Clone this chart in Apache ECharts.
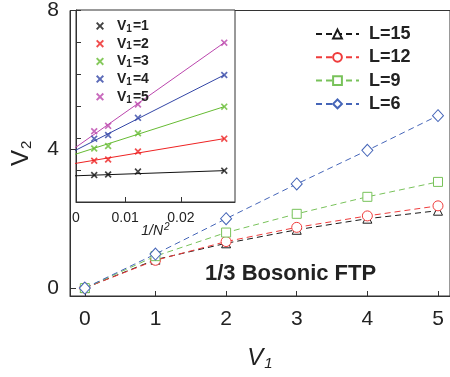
<!DOCTYPE html>
<html>
<head>
<meta charset="utf-8">
<script src="https://cdn.jsdelivr.net/npm/echarts@6/dist/echarts.min.js"></script>
<style>
  html, body { margin: 0; padding: 0; background: #fff; }
  #chart { width: 450px; height: 377px; }
</style>
</head>
<body>
<div id="chart"></div>
<script>
// main panel: V2 vs V1 for several system sizes
const v1Values = [0, 1, 2, 3, 4, 5];
const sizeNames = ['L=15', 'L=12', 'L=9', 'L=6'];
const v2L15 = [0, 0.82, 1.29, 1.68, 2.0, 2.23];
const v2L12 = [0, 0.80, 1.34, 1.75, 2.08, 2.37];
const v2L9 = [0, 0.92, 1.60, 2.14, 2.63, 3.06];
const v2L6 = [0, 0.98, 2.0, 3.0, 3.97, 4.97];
const mainXTicks = [0, 1, 2, 3, 4, 5];
const mainYTicks = [0, 4, 8];

// inset: extrapolation in 1/N^2
const invN2 = [0.00444, 0.00694, 0.0123, 0.0278];
const insetV1 = [1, 2, 3, 4, 5];
const insetV1eq1 = [0.84, 0.86, 0.95, 0.98];
const insetV1eq2 = [1.29, 1.33, 1.58, 1.98];
const insetV1eq3 = [1.67, 1.75, 2.15, 2.98];
const insetV1eq4 = [1.98, 2.09, 2.63, 3.97];
const insetV1eq5 = [2.21, 2.38, 3.05, 4.98];
const fitAtZero = [0.813, 1.175, 1.433, 1.52, 1.57];
const fitAtEnd = [0.98, 1.98, 2.98, 3.97, 4.98];
const insetXTicks = [0.00117, 0.01, 0.02];
const insetXLabels = ['0', '0.01', '0.02'];

const mainColors = ['#1a1a1a', '#ef3b3b', '#78c25a', '#4565b8'];
const mainSymbols = ['triangle', 'circle', 'rect', 'diamond'];
const mainSizes = [9, 10, 9, [11, 12]];
const insetColors = ['#111111', '#ee2222', '#66bb33', '#3346a6', '#bb46ad'];
const cross = 'path://M0,1.7L1.7,0L5,3.3L8.3,0L10,1.7L6.7,5L10,8.3L8.3,10L5,6.7L1.7,10L0,8.3L3.3,5Z';

const mainSets = [v2L15, v2L12, v2L9, v2L6];
const insetSets = [insetV1eq1, insetV1eq2, insetV1eq3, insetV1eq4, insetV1eq5];
const insetNames = insetV1.map(v => 'V1=' + v);

const chart = echarts.init(document.getElementById('chart'));

const series = [];
mainSets.forEach((vals, i) => {
  series.push({
    name: sizeNames[i],
    type: 'line',
    xAxisIndex: 0,
    yAxisIndex: 0,
    data: vals.map((v, k) => [v1Values[k], v]),
    symbol: mainSymbols[i],
    symbolSize: mainSizes[i],
    showAllSymbol: true,
    lineStyle: { color: mainColors[i], width: 1, type: [6, 4] },
    itemStyle: { color: '#fff', borderColor: mainColors[i], borderWidth: 1 },
    z: 2
  });
});
insetSets.forEach((vals, i) => {
  series.push({
    name: insetNames[i] + ' fit',
    type: 'line',
    xAxisIndex: 1,
    yAxisIndex: 1,
    data: [[0, fitAtZero[i]], [invN2[invN2.length - 1], fitAtEnd[i]]],
    showSymbol: false,
    lineStyle: { color: insetColors[i], width: 1 },
    clip: true,
    silent: true,
    z: 11
  });
  series.push({
    name: insetNames[i],
    type: 'scatter',
    xAxisIndex: 1,
    yAxisIndex: 1,
    data: vals.map((v, k) => [invN2[k], v]),
    symbol: cross,
    symbolSize: 7,
    itemStyle: { color: insetColors[i] },
    z: 12
  });
});

chart.setOption({
  animation: false,
  textStyle: { fontFamily: 'Liberation Sans, Arial, sans-serif', color: '#222' },
  grid: [
    { left: 70, top: 8, width: 382, height: 288, show: true, borderColor: '#333', borderWidth: 1, backgroundColor: 'transparent' },
    { left: 76, top: 10, width: 159, height: 192, show: true, borderColor: '#333', borderWidth: 1, backgroundColor: '#fff', z: 10 }
  ],
  xAxis: [
    {
      gridIndex: 0, type: 'value', min: -0.21, max: 5.17,
      axisLine: { show: true, onZero: false, lineStyle: { color: '#333' } },
      axisTick: { show: true, inside: true, length: 5, customValues: mainXTicks, lineStyle: { color: '#333' } },
      axisLabel: { customValues: mainXTicks, fontSize: 21, color: '#222', margin: 13 },
      splitLine: { show: false },
      name: '{i|V}{s|1}', nameLocation: 'middle', nameGap: 50,
      nameTextStyle: {
        rich: {
          i: { fontSize: 24, fontStyle: 'italic', color: '#222' },
          s: { fontSize: 15, fontStyle: 'italic', color: '#222', verticalAlign: 'bottom', padding: [10, 0, 0, 1] }
        }
      }
    },
    {
      gridIndex: 1, type: 'value', min: insetXTicks[0], max: 0.02973,
      axisLine: { show: true, onZero: false, lineStyle: { color: '#333' } },
      axisTick: { show: true, inside: true, length: 5, customValues: insetXTicks.slice(1), lineStyle: { color: '#333' } },
      axisLabel: {
        customValues: insetXTicks, fontSize: 14, color: '#222', margin: 9,
        formatter: v => insetXLabels[insetXTicks.indexOf(v)] ?? ''
      },
      splitLine: { show: false },
      name: '{a|1/N}{p|2}', nameLocation: 'middle', nameGap: 20, nameMoveOverlap: false,
      nameTextStyle: {
        rich: {
          a: { fontSize: 14, fontStyle: 'italic', color: '#222' },
          p: { fontSize: 10, fontStyle: 'italic', color: '#222', verticalAlign: 'top', padding: [0, 0, 8, 1] }
        }
      },
      z: 11
    }
  ],
  yAxis: [
    {
      gridIndex: 0, type: 'value', min: -8 / 35, max: 8,
      axisLine: { show: true, onZero: false, lineStyle: { color: '#333' } },
      axisTick: { show: true, inside: true, length: 6, customValues: mainYTicks, lineStyle: { color: '#333' } },
      axisLabel: { customValues: mainYTicks, fontSize: 21, color: '#222', margin: 11 },
      splitLine: { show: false },
      name: '{i|V}{s|2}', nameLocation: 'middle', nameGap: 36, nameRotate: 90,
      nameTextStyle: {
        rich: {
          i: { fontSize: 24, color: '#222' },
          s: { fontSize: 15, color: '#222', verticalAlign: 'bottom', padding: [10, 0, 0, 1] }
        }
      }
    },
    {
      gridIndex: 1, type: 'value', min: 0, max: 6, interval: 1,
      axisLine: { show: true, onZero: false, lineStyle: { color: '#333' } },
      axisTick: { show: true, inside: true, length: 5, lineStyle: { color: '#333' } },
      axisLabel: { show: false },
      splitLine: { show: false },
      z: 11
    }
  ],
  legend: [
    {
      data: sizeNames,
      orient: 'vertical',
      left: 310, top: 19,
      itemWidth: 43, itemHeight: 11, itemGap: 3.3,
      textStyle: { fontSize: 18, fontWeight: 'bold', color: '#222', lineHeight: 20, padding: [0, 0, 0, 5] },
      z: 20
    },
    {
      data: insetNames.map(n => ({ name: n, icon: cross })),
      orient: 'vertical',
      left: 91, top: 13,
      itemWidth: 8, itemHeight: 8, itemGap: 1.7,
      formatter: n => '{b|V}{s|1}{b|=' + n.split('=')[1] + '}',
      textStyle: {
        padding: [0, 0, 0, 8],
        rich: {
          b: { fontSize: 14, fontWeight: 'bold', color: '#222', lineHeight: 16 },
          s: { fontSize: 10, fontWeight: 'bold', color: '#222', lineHeight: 16, verticalAlign: 'bottom', padding: [6, 1, 0, 0] }
        }
      },
      z: 20
    }
  ],
  graphic: [
    {
      type: 'text', left: 205, top: 263, z: 20,
      style: { text: '1/3 Bosonic FTP', font: 'bold 22px "Liberation Sans", Arial, sans-serif', fill: '#222' }
    }
  ],
  series: series
});
</script>
</body>
</html>
